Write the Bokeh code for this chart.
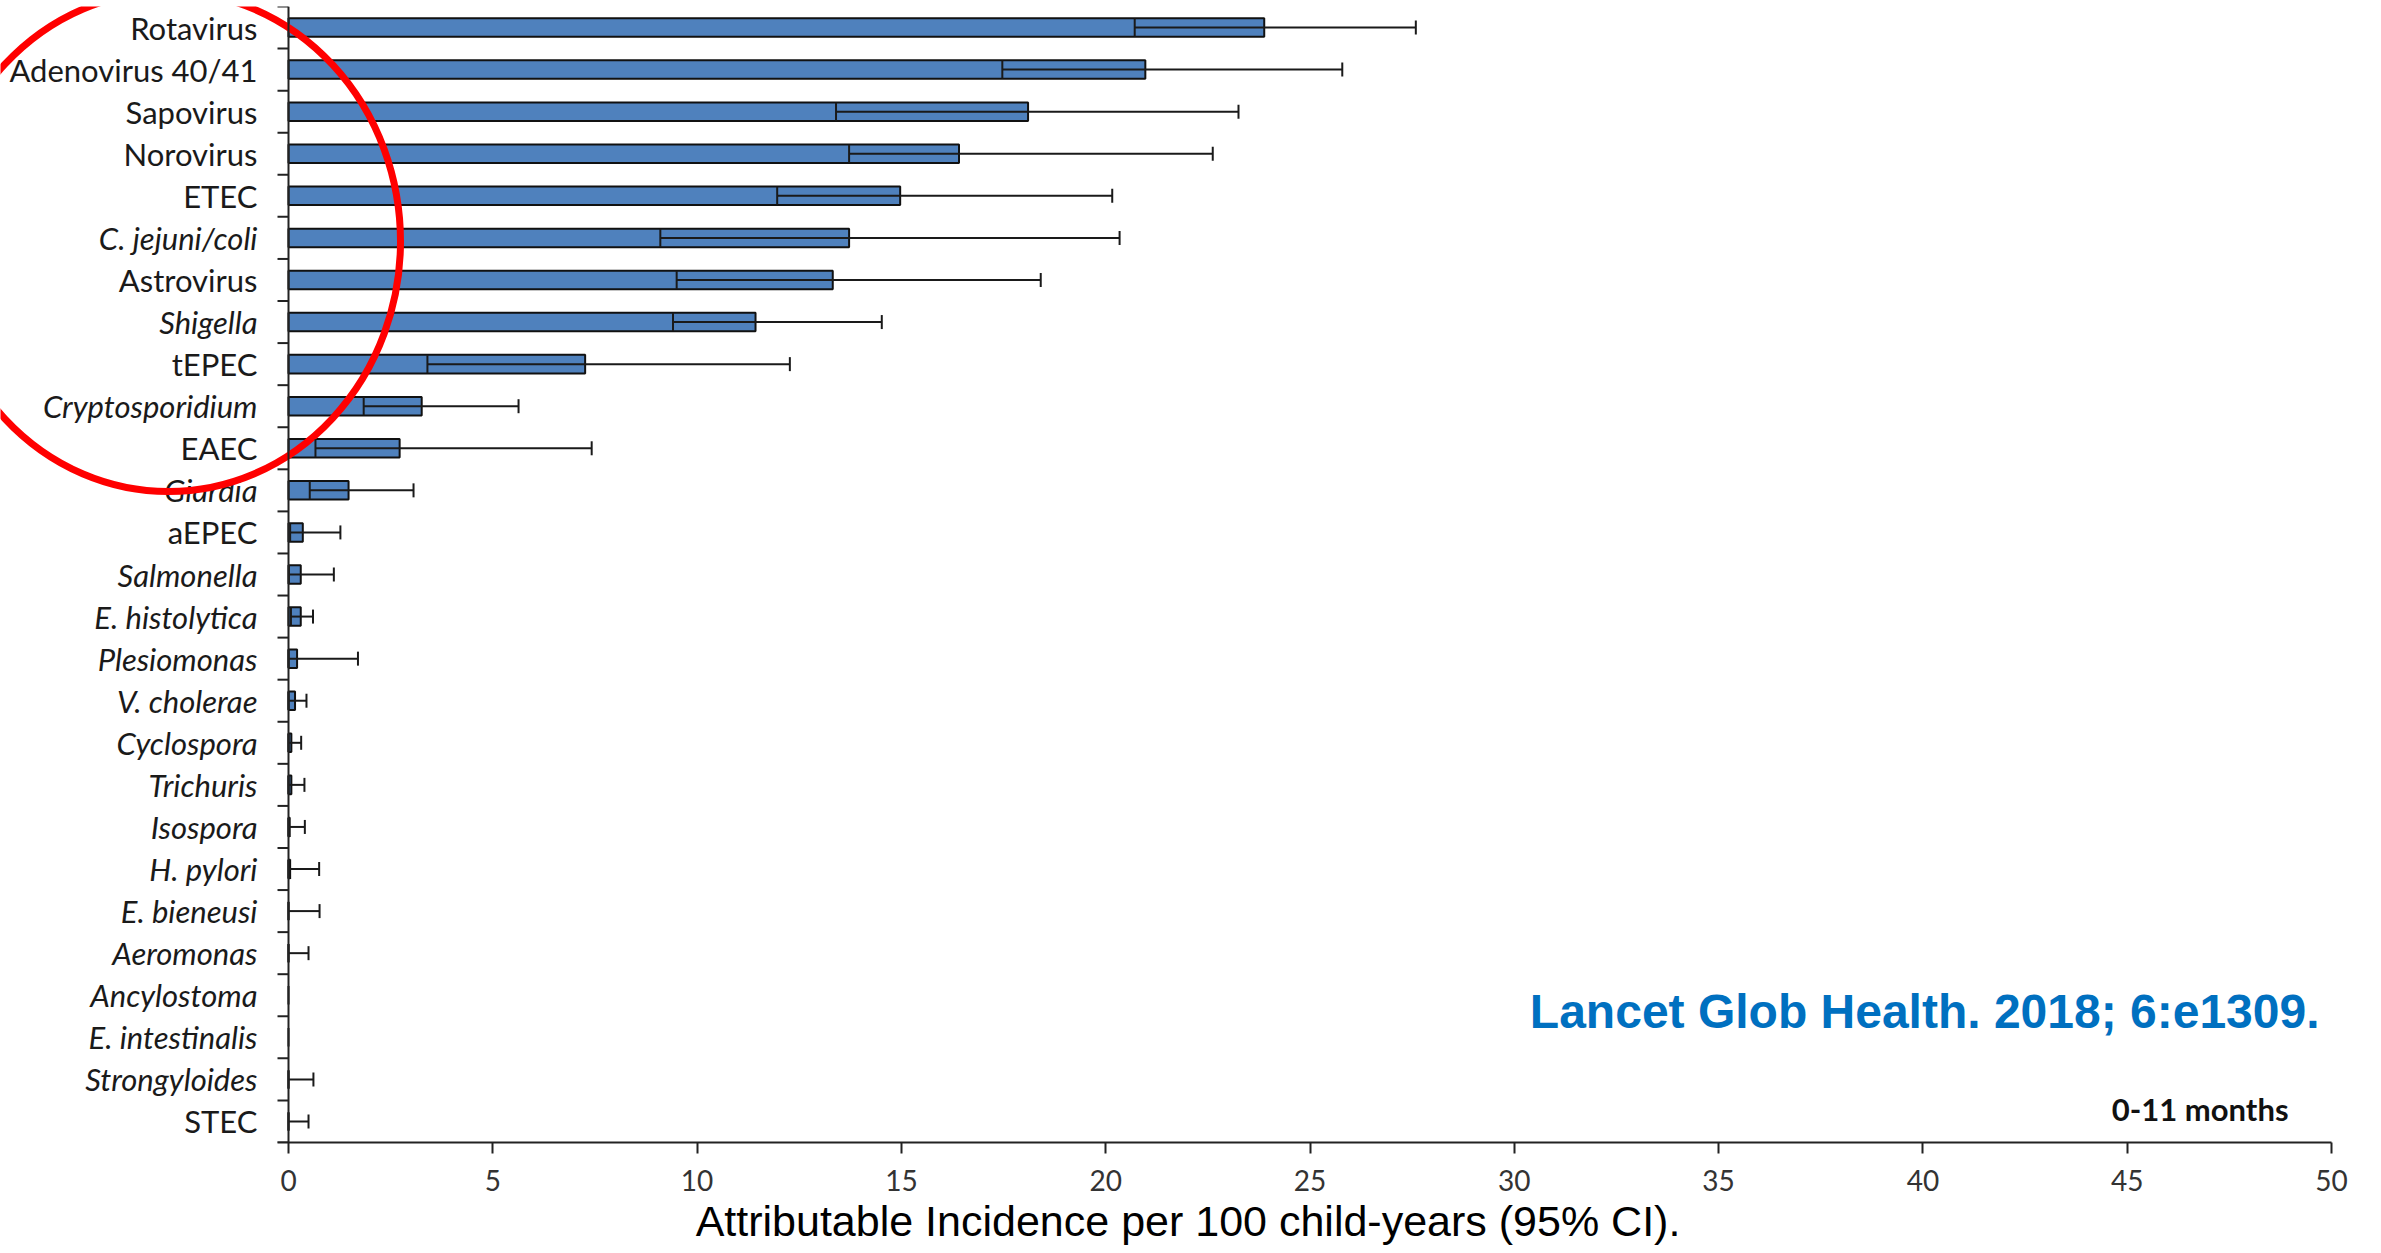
import numpy as np
from bokeh.plotting import figure
from bokeh.models import (ColumnDataSource, FactorRange, Range1d, Label, LinearAxis,
                          Whisker, TeeHead, Span, FixedTicker)
from bokeh.core.properties import value
from bokeh.embed import file_html
from bokeh.resources import INLINE

# ---------------- data ----------------
categories = ["Rotavirus", "Adenovirus 40/41", "Sapovirus", "Norovirus", "ETEC",
              "C. jejuni/coli", "Astrovirus", "Shigella", "tEPEC", "Cryptosporidium",
              "EAEC", "Giardia", "aEPEC", "Salmonella", "E. histolytica", "Plesiomonas",
              "V. cholerae", "Cyclospora", "Trichuris", "Isospora", "H. pylori",
              "E. bieneusi", "Aeromonas", "Ancylostoma", "E. intestinalis",
              "Strongyloides", "STEC"]
italic = [False, False, False, False, False,
          True, False, True, False, True,
          False, True, False, True, True, True,
          True, True, True, True, True,
          True, True, True, True,
          True, False]
estimate = [23.88, 20.97, 18.10, 16.41, 14.97, 13.72, 13.32, 11.43, 7.26, 3.26,
            2.72, 1.47, 0.35, 0.30, 0.30, 0.21, 0.16, 0.07, 0.07, 0.03, 0.04,
            0.0, 0.0, 0.0, 0.0, 0.0, 0.0]
lower = [20.71, 17.47, 13.40, 13.72, 11.96, 9.10, 9.50, 9.41, 3.40, 1.84,
         0.66, 0.52, 0.04, 0.01, 0.06, 0.0, 0.0, 0.0, 0.0, 0.0, 0.0,
         0.0, 0.0, 0.0, 0.0, 0.0, 0.0]
upper = [27.59, 25.79, 23.25, 22.62, 20.16, 20.34, 18.41, 14.52, 12.27, 5.63,
         7.42, 3.06, 1.27, 1.11, 0.60, 1.70, 0.44, 0.31, 0.39, 0.40, 0.75,
         0.76, 0.49, 0.0, 0.0, 0.61, 0.49]
x_ticks = [0, 5, 10, 15, 20, 25, 30, 35, 40, 45, 50]
x_min, x_max = 0, 50
x_title = "Attributable Incidence per 100 child-years (95% CI)."
source_note = "Lancet Glob Health. 2018; 6:e1309."
age_group = "0-11 months"

# ---------------- layout (pixels) ----------------
W, H = 2375, 1250
AX_LEFT_PX, AX_RIGHT_PX = 288, 2331      # where x=0 and x=50 fall on the canvas
TOP_PX, BOTTOM_PX = 6, 1142              # frame top / x-axis line
ppu = (AX_RIGHT_PX - AX_LEFT_PX) / (x_max - x_min)
n = len(categories)
row_px = (BOTTOM_PX - TOP_PX) / n

x_start = x_min - AX_LEFT_PX / ppu
x_end = x_max + (W - AX_RIGHT_PX) / ppu

p = figure(width=W, height=H, output_backend="svg", toolbar_location=None,
           x_range=Range1d(x_start, x_end),
           y_range=FactorRange(factors=categories[::-1], range_padding=0, factor_padding=0),
           min_border_left=0, min_border_right=0, min_border_top=TOP_PX,
           min_border_bottom=H - BOTTOM_PX)
p.outline_line_color = None
p.xgrid.visible = False
p.ygrid.visible = False
p.yaxis.visible = False
p.background_fill_color = "white"
p.border_fill_color = "white"

tick_len = 11 / ppu

xa = p.xaxis[0]
xa.ticker = FixedTicker(ticks=x_ticks)
xa.bounds = (x_min - tick_len, x_max)
xa.major_tick_out = 11
xa.major_tick_in = 0
xa.minor_tick_out = 0
xa.minor_tick_in = 0
xa.axis_line_width = 2
xa.axis_line_color = "#222222"
xa.major_tick_line_width = 2
xa.major_tick_line_color = "#222222"
xa.major_label_text_font = "Lato"
xa.major_label_text_font_size = "28px"
xa.major_label_text_color = "#333333"
xa.major_label_standoff = 16

# second axis below only carries the title, centred on the page like the slide
ta = LinearAxis(ticker=FixedTicker(ticks=[]), axis_label=x_title)
ta.axis_line_color = None
ta.major_tick_out = 0
ta.major_tick_in = 0
ta.minor_tick_out = 0
ta.minor_tick_in = 0
ta.major_label_standoff = 0
ta.axis_label_standoff = 3
ta.axis_label_text_font = "Liberation Sans"
ta.axis_label_text_font_size = "43px"
ta.axis_label_text_font_style = "normal"
ta.axis_label_text_color = "#000000"
p.add_layout(ta, "below")

src = ColumnDataSource(dict(
    cat=categories, est=estimate, lo=lower, up=upper,
    style=["italic" if it else "normal" for it in italic]))

p.hbar(y="cat", left=0, right="est", height=0.44, fill_color="#4F81BD",
       line_color="#111111", line_width=2, source=src)

# error bars (lower CI tick inside bar, capped upper CI)
keep = [i for i, u in enumerate(upper) if u > 0]
err = ColumnDataSource(dict(cat=[categories[i] for i in keep],
                            lo=[lower[i] for i in keep],
                            up=[upper[i] for i in keep]))
p.add_layout(Whisker(source=err, base="cat", lower="lo", upper="up", dimension="width",
                     line_color="#1a1a1a", line_width=2, level="annotation",
                     lower_head=TeeHead(size=18, line_color="#1a1a1a", line_width=2),
                     upper_head=TeeHead(size=14, line_color="#1a1a1a", line_width=2)))

# y axis line and tick marks between categories
p.add_layout(Span(location=x_min, dimension="height", line_color="#222222", line_width=2))
bounds = list(range(n + 1))
p.segment(x0=x_min - tick_len, x1=x_min, y0=bounds, y1=bounds,
          line_color="#222222", line_width=2)

# category labels (mixed upright / italic)
p.text(x=0, y="cat", text="cat", source=src, x_offset=-31,
       text_align="right", text_baseline="middle",
       text_font=value("Lato"), text_font_size="31px",
       text_font_style="style", text_color="#1a1a1a")

# red highlight ellipse
cx = (168 - AX_LEFT_PX) / ppu
cy = n - (241 - TOP_PX) / row_px
p.ellipse(x=[cx], y=[cy], width=2 * 232 / ppu, height=2 * 250 / row_px,
          fill_color=None, line_color="#ff0000", line_width=7, line_alpha=1.0)

p.add_layout(Label(x=2319, y=BOTTOM_PX - 1011, x_units="screen", y_units="screen",
                   text=source_note, text_align="right", text_baseline="middle",
                   text_font="Liberation Sans", text_font_size="48px",
                   text_font_style="bold", text_color="#0070C0"))
p.add_layout(Label(x=2288, y=BOTTOM_PX - 1108, x_units="screen", y_units="screen",
                   text=age_group, text_align="right", text_baseline="middle",
                   text_font="Lato", text_font_size="31px",
                   text_font_style="bold", text_color="#111111"))

open("out.html", "w").write(file_html(p, INLINE))
